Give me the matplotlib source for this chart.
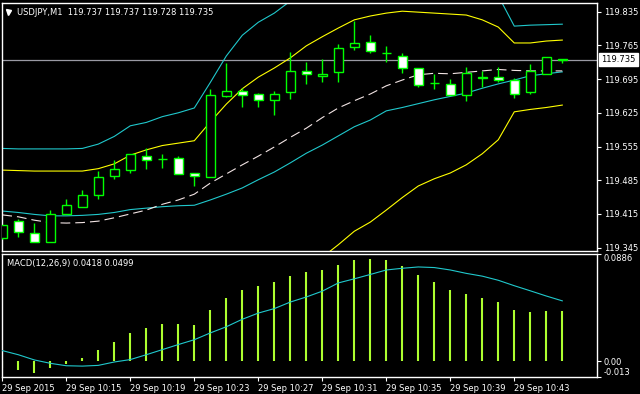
import matplotlib
matplotlib.use("Agg")
import matplotlib.pyplot as plt
import numpy as np

plt.rcParams['font.family'] = ['DejaVu Sans']
plt.rcParams['lines.scale_dashes'] = False

# ---------------- data ----------------
opens = [119.364, 119.400, 119.375, 119.356, 119.414, 119.429, 119.454, 119.493, 119.507, 119.535,
         119.529, 119.531, 119.501, 119.491, 119.659, 119.670, 119.663, 119.651, 119.668, 119.711,
         119.701, 119.709, 119.761, 119.773, 119.749, 119.743, 119.717, 119.686, 119.684, 119.661,
         119.698, 119.699, 119.693, 119.668, 119.705, 119.737]
highs = [119.393, 119.405, 119.396, 119.423, 119.446, 119.465, 119.504, 119.526, 119.539, 119.551,
         119.539, 119.535, 119.501, 119.675, 119.729, 119.677, 119.666, 119.670, 119.751, 119.731,
         119.737, 119.767, 119.816, 119.787, 119.764, 119.749, 119.718, 119.706, 119.695, 119.720,
         119.711, 119.720, 119.697, 119.726, 119.740, 119.737]
lows = [119.362, 119.368, 119.356, 119.356, 119.414, 119.429, 119.447, 119.488, 119.499, 119.509,
        119.510, 119.498, 119.474, 119.491, 119.658, 119.638, 119.636, 119.620, 119.653, 119.684,
        119.688, 119.688, 119.755, 119.749, 119.731, 119.708, 119.678, 119.674, 119.661, 119.650,
        119.678, 119.688, 119.656, 119.665, 119.705, 119.728]
closes = [119.391, 119.377, 119.356, 119.414, 119.433, 119.454, 119.491, 119.508, 119.539, 119.526,
          119.529, 119.498, 119.493, 119.661, 119.670, 119.661, 119.651, 119.663, 119.711, 119.705,
          119.706, 119.759, 119.769, 119.753, 119.749, 119.717, 119.682, 119.686, 119.661, 119.707,
          119.700, 119.694, 119.665, 119.711, 119.740, 119.735]

yellow_upper = [119.506, 119.505, 119.504, 119.504, 119.504, 119.504, 119.509, 119.519, 119.537, 119.548,
                119.557, 119.562, 119.567, 119.606, 119.643, 119.675, 119.699, 119.718, 119.739, 119.764,
                119.783, 119.801, 119.818, 119.826, 119.832, 119.836, 119.834, 119.832, 119.830, 119.828,
                119.818, 119.803, 119.770, 119.770, 119.774, 119.776]
yellow_lower = [119.320, 119.313, 119.300, 119.290, 119.288, 119.290, 119.291, 119.295, 119.293, 119.298,
                119.300, 119.302, 119.305, 119.290, 119.280, 119.278, 119.280, 119.285, 119.293, 119.305,
                119.325, 119.351, 119.379, 119.398, 119.423, 119.449, 119.473, 119.488, 119.500, 119.517,
                119.540, 119.569, 119.627, 119.632, 119.636, 119.641]
cyan_upper = [119.551, 119.550, 119.550, 119.550, 119.550, 119.551, 119.560, 119.576, 119.598, 119.605,
              119.617, 119.625, 119.635, 119.688, 119.743, 119.786, 119.813, 119.832, 119.857, 119.872,
              119.886, 119.900, 119.913, 119.922, 119.928, 119.930, 119.928, 119.922, 119.912, 119.899,
              119.884, 119.868, 119.805, 119.807, 119.808, 119.809]
cyan_lower = [119.421, 119.418, 119.414, 119.411, 119.411, 119.412, 119.414, 119.418, 119.424, 119.427,
              119.430, 119.432, 119.433, 119.444, 119.456, 119.469, 119.486, 119.502, 119.521, 119.541,
              119.558, 119.577, 119.596, 119.610, 119.629, 119.636, 119.644, 119.652, 119.659, 119.666,
              119.676, 119.685, 119.693, 119.702, 119.706, 119.710]
ma_line = [119.413, 119.409, 119.402, 119.397, 119.396, 119.397, 119.400, 119.407, 119.415, 119.423,
           119.435, 119.444, 119.456, 119.479, 119.498, 119.517, 119.535, 119.554, 119.574, 119.593,
           119.615, 119.635, 119.650, 119.664, 119.681, 119.693, 119.704, 119.707, 119.706, 119.709,
           119.712, 119.715, 119.713, 119.712, 119.712, 119.712]

macd_hist = [-0.0059, -0.0071, -0.0096, -0.0059, -0.0023, 0.0031, 0.0096, 0.0155, 0.0232, 0.0274,
             0.0308, 0.0308, 0.0299, 0.0426, 0.0520, 0.0587, 0.0621, 0.0655, 0.0706, 0.0740,
             0.0757, 0.0799, 0.0833, 0.0842, 0.0833, 0.0791, 0.0714, 0.0655, 0.0587, 0.0554,
             0.0520, 0.0486, 0.0426, 0.0409, 0.0418, 0.0418]
macd_signal = [0.0088, 0.0054, 0.0011, -0.0017, -0.0037, -0.0040, -0.0034, -0.0006, 0.0014, 0.0054,
               0.0096, 0.0138, 0.0178, 0.0234, 0.0285, 0.0347, 0.0398, 0.0435, 0.0489, 0.0531,
               0.0579, 0.0647, 0.0681, 0.0717, 0.0754, 0.0768, 0.0779, 0.0774, 0.0754, 0.0726,
               0.0703, 0.0669, 0.0624, 0.0582, 0.0539, 0.0499]

price_ticks = [119.345, 119.415, 119.485, 119.555, 119.625, 119.695, 119.765, 119.835]
current_price = 119.735
time_tick_idx = [0, 4, 8, 12, 16, 20, 24, 28, 32]
time_labels = ["29 Sep 2015", "29 Sep 10:15", "29 Sep 10:19", "29 Sep 10:23", "29 Sep 10:27",
               "29 Sep 10:31", "29 Sep 10:35", "29 Sep 10:39", "29 Sep 10:43"]
macd_ticks = [0.0886, 0.0, -0.013]
macd_tick_labels = ["0.0886", "0.00", "-0.013"]
title_text = "USDJPY,M1  119.737 119.737 119.728 119.735"
macd_text = "MACD(12,26,9) 0.0418 0.0499"

# ---------------- styling ----------------
BG = "black"
GREEN = "#00FF00"
YELLOW = "#FFFF00"
CYAN = "#20C8CC"
MAC = "#F2E4E4"
HIST = "#ADFF2F"
FS = 6.0

W, H = 640, 394
fig = plt.figure(figsize=(W / 100, H / 100), dpi=100, facecolor=BG)

def frac(x0, y0, x1, y1):
    return [x0 / W, 1 - y1 / H, (x1 - x0) / W, (y1 - y0) / H]

ax = fig.add_axes(frac(2, 3, 597, 251), facecolor=BG)
ax2 = fig.add_axes(frac(2, 254, 597, 377), facecolor=BG)

x = np.arange(len(opens))
xlim = (-0.02, 37.17)

# main panel
ax.axhline(current_price, color="#9a9aa4", lw=0.9, zorder=1)
ax.plot(x, cyan_upper, color=CYAN, lw=0.8, zorder=2)
ax.plot(x, cyan_lower, color=CYAN, lw=0.8, zorder=2)
ax.plot(x, yellow_upper, color=YELLOW, lw=0.8, zorder=2)
ax.plot(x, yellow_lower, color=YELLOW, lw=0.8, zorder=2)
ax.plot(x, ma_line, color=MAC, lw=0.8, ls=(0, (7, 3.6)), zorder=2)

o = np.array(opens); c = np.array(closes)
ax.vlines(x, lows, highs, color=GREEN, lw=1.0, zorder=3)
face = ["black" if cc > oo else "white" for oo, cc in zip(o, c)]
ax.bar(x, np.abs(c - o), bottom=np.minimum(o, c), width=0.58, color=face,
       edgecolor=GREEN, linewidth=1.0, zorder=4)

ax.set_xlim(*xlim)
ax.set_ylim(119.338, 119.853)
ax.yaxis.tick_right()
ax.set_yticks(price_ticks)
ax.set_yticklabels([f"{v:.3f}" for v in price_ticks])
ax.tick_params(axis="y", colors="white", labelcolor="white", labelsize=FS,
               length=3, width=0.8, pad=2)
ax.set_xticks([])
for s in ax.spines.values():
    s.set_color("white"); s.set_linewidth(1.0)

ax.annotate(f"{current_price:.3f}", xy=(1.0, current_price),
            xycoords=("axes fraction", "data"), xytext=(3.2, 0),
            textcoords="offset points", va="center", ha="left",
            fontsize=FS, color="black",
            bbox=dict(boxstyle="square,pad=0.25", fc="white", ec="white"),
            annotation_clip=False)

ax.plot([0.0103], [0.9637], marker="v", color="white", ms=3.6,
        transform=ax.transAxes, clip_on=False)
ax.text(0.0255, 0.9637, title_text, transform=ax.transAxes, color="white",
        fontsize=FS, va="center", ha="left")

# macd panel
ax2.vlines(x, 0, macd_hist, color=HIST, lw=1.5, zorder=2)
ax2.plot(x, macd_signal, color=CYAN, lw=0.8, zorder=3)
ax2.set_xlim(*xlim)
ax2.set_ylim(-0.013, 0.0886)
ax2.yaxis.tick_right()
ax2.set_yticks(macd_ticks)
ax2.set_yticklabels(macd_tick_labels)
ax2.tick_params(axis="y", colors="white", labelcolor="white", labelsize=FS,
                length=3, width=0.8, pad=2)
labs = ax2.get_yticklabels()
labs[0].set_verticalalignment("top")
labs[2].set_verticalalignment("bottom")
ax2.set_xticks(time_tick_idx)
ax2.set_xticklabels(time_labels)
ax2.tick_params(axis="x", colors="white", labelcolor="white", labelsize=FS,
                length=3, width=0.8, pad=2)
for lab in ax2.get_xticklabels():
    lab.set_horizontalalignment("left")
for s in ax2.spines.values():
    s.set_color("white"); s.set_linewidth(1.0)
ax2.text(0.0079, 0.924, macd_text, transform=ax2.transAxes, color="white",
         fontsize=FS, va="center", ha="left")

fig.savefig("out.png", dpi=100, facecolor=BG)
